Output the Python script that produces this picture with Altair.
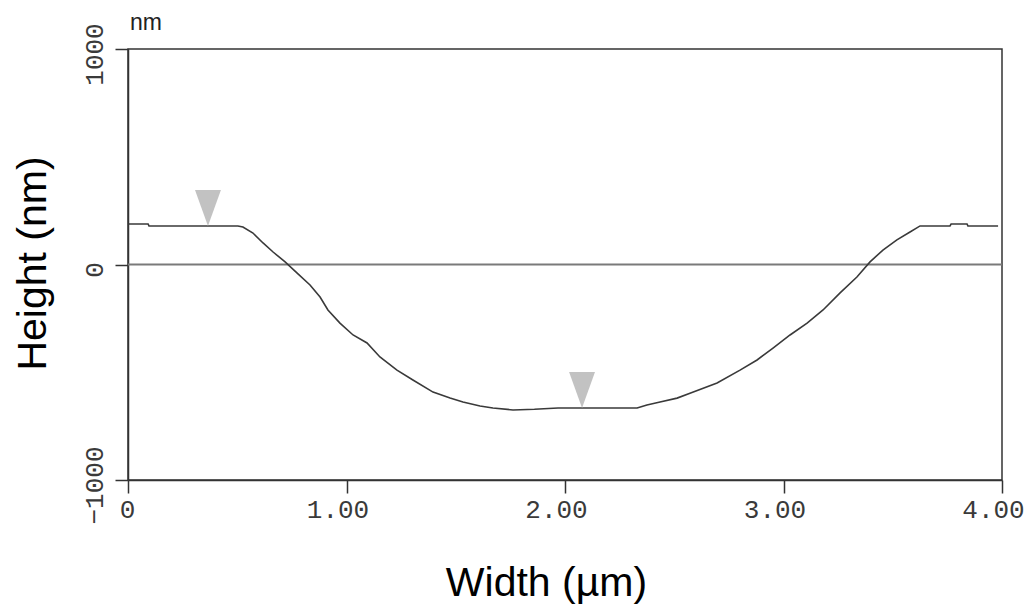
import altair as alt
import pandas as pd

# Profile
x_um = [0.0, 0.092, 0.096, 0.30, 0.503, 0.526, 0.572, 0.618, 0.664, 0.719, 0.773, 0.833, 0.879,
        0.915, 0.970, 1.030, 1.094, 1.153, 1.231, 1.304, 1.396, 1.474, 1.533, 1.611, 1.670,
        1.762, 1.860, 1.968, 2.060, 2.114, 2.220, 2.330, 2.375, 2.435, 2.513, 2.572, 2.696,
        2.801, 2.879, 2.952, 3.030, 3.108, 3.181, 3.259, 3.336, 3.396, 3.455, 3.519, 3.579,
        3.625, 3.762, 3.767, 3.840, 3.844, 3.982]
height_nm = [188, 188, 179, 179, 179, 174, 146, 100, 58, 12, -39, -95, -151,
             -211, -272, -327, -364, -429, -490, -536, -592, -620, -638, -657, -666,
             -675, -672, -666, -666, -666, -666, -666, -652, -638, -620, -597, -550,
             -490, -443, -388, -327, -272, -211, -132, -58, 12, 67, 114, 151,
             179, 179, 188, 188, 179, 179]

marker_x = [0.366, 2.078]
marker_h = [179, -666]

x_ticks = [0, 1, 2, 3, 4]
y_ticks = [-1000, 0, 1000]

profile = pd.DataFrame({"x": x_um, "h": height_nm})
markers = pd.DataFrame({"x": marker_x, "h": marker_h})
zero = pd.DataFrame({"h": [0]})
unit = pd.DataFrame({"t": ["nm"]})

xscale = alt.Scale(domain=[0, 4], nice=False, zero=False)
yscale = alt.Scale(domain=[-1000, 1000], nice=False, zero=False)

xaxis = alt.Axis(
    values=x_ticks,
    labelExpr="datum.value == 0 ? '0' : format(datum.value, '.2f')",
    title="Width (\u00b5m)",
    titleFont="Liberation Sans", titleFontSize=41, titleFontWeight="normal", titleColor="#000",
    titleX=418, titleY=115, titleBaseline="alphabetic", titleAnchor="middle",
    labelFont="Liberation Mono", labelFontSize=26, labelColor="#3a3a3a",
    labelPadding=3, labelBaseline="top",
    labelOffset=alt.expr("datum.value == 0 ? -1 : -9"),
    tickSize=13, tickColor="#333", tickWidth=1.5,
    domainColor="#333", domainWidth=1.5, grid=False, labelFlush=False,
)
yaxis = alt.Axis(
    values=y_ticks,
    labelExpr="format(datum.value, 'd')",
    title="Height (nm)",
    titleFont="Liberation Sans", titleFontSize=41, titleFontWeight="normal", titleColor="#000",
    titleX=-95, titleY=214, titleAngle=-90, titleBaseline="middle", titleAlign="center",
    labelFont="Liberation Mono", labelFontSize=26, labelColor="#3a3a3a",
    labelAngle=-90, labelAlign="center", labelBaseline="alphabetic",
    labelPadding=13, labelOffset=5,
    tickSize=13, tickColor="#333", tickWidth=1.5,
    domainColor="#333", domainWidth=1.5, grid=False, labelFlush=False,
)

line = alt.Chart(profile).mark_line(color="#3a3a3a", strokeWidth=1.6, interpolate="linear").encode(
    x=alt.X("x:Q", scale=xscale, axis=xaxis),
    y=alt.Y("h:Q", scale=yscale, axis=yaxis),
)

zline = alt.Chart(zero).mark_rule(color="#7a7a7a", strokeWidth=2).encode(
    y=alt.Y("h:Q", scale=yscale)
)

tri = alt.Chart(markers).mark_point(
    shape="M -0.72 -2 L 0.72 -2 L 0 0 Z", size=1296, filled=True,
    color="#c2c2c2", opacity=1, strokeWidth=0,
).encode(
    x=alt.X("x:Q", scale=xscale),
    y=alt.Y("h:Q", scale=yscale),
)

unit_text = alt.Chart(unit).mark_text(
    font="Liberation Sans", fontSize=23, color="#222", align="center", baseline="alphabetic"
).encode(text="t:N", x=alt.value(18), y=alt.value(-19))

chart = alt.layer(zline, line, tri, unit_text).properties(
    width=874, height=431,
    autosize=alt.AutoSizeParams(type="none"),
    padding={"left": 120, "top": 41, "right": 22, "bottom": 124},
    background="white",
).configure_view(stroke="#333", strokeWidth=1.5)

chart.save("out.html", embed_options={"renderer": "svg", "actions": False})
